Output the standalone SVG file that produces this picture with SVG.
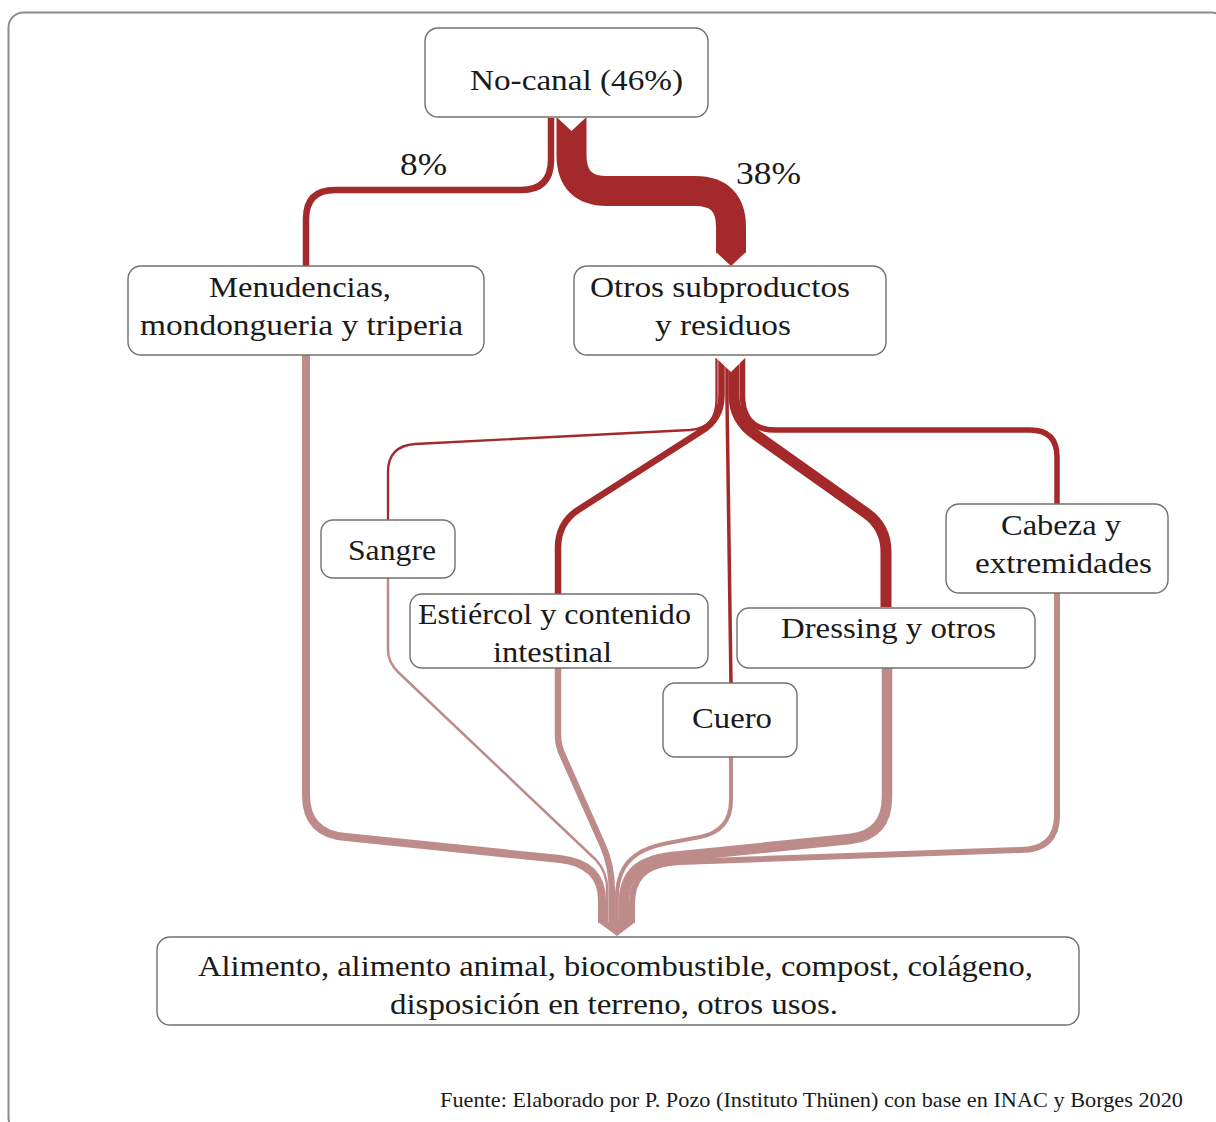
<svg xmlns="http://www.w3.org/2000/svg" width="1216" height="1122" viewBox="0 0 1216 1122">
  <style>
    .frame { fill: none; stroke: #8c8c8c; stroke-width: 2; }
    .box { fill: #ffffff; stroke: #707070; stroke-width: 1.4; }
    .lbl { font-family: "Liberation Serif", "DejaVu Serif", serif; font-size: 30px; fill: #1a1a1a; text-anchor: middle; }
    .pct { font-family: "Liberation Serif", "DejaVu Serif", serif; font-size: 31px; fill: #1a1a1a; text-anchor: middle; }
    .src { font-family: "Liberation Serif", "DejaVu Serif", serif; font-size: 21px; fill: #1a1a1a; text-anchor: middle; }
    .in { fill: none; stroke: #a3292b; stroke-linecap: butt; stroke-linejoin: round; }
    .out { fill: none; stroke: #bd8b8a; stroke-linecap: butt; stroke-linejoin: round; }
  </style>

  <rect class="frame" x="8.5" y="12.5" width="1218" height="1120" rx="15"/>

  <g id="connectors">
    <!-- No-canal split: 8% and 38% -->
    <path class="in" stroke-width="6.5" d="M 551 118 V 160 Q 551 190 521 190 H 335 Q 306 190 306 219 V 267"/>
    <path class="in" stroke-width="30" d="M 571.5 118 V 155 Q 571.5 191 607 191 H 695 Q 731 191 731 227 V 253"/>
    <polygon points="556.5,117 586.5,117 571.5,131" fill="#ffffff"/>
    <polygon points="716,252 746,252 731,266" fill="#a3292b"/>

    <!-- Otros subproductos fan-out -->
    <path class="in" stroke-width="2.3" d="M 716.5 358 V 400 Q 716.5 428 690 430 L 415 444 Q 388 446 388 472 V 521"/>
    <path class="in" stroke-width="6.5" d="M 721.5 358 V 395 Q 721.5 420 700 432 L 578 510 Q 558 523 558 548 V 595"/>
    <path class="in" stroke-width="3.5" d="M 727 358 V 400 L 731 684"/>
    <path class="in" stroke-width="11" d="M 734 358 V 395 Q 734 420 756 435 L 866 513 Q 886 527 886 552 V 607"/>
    <path class="in" stroke-width="5.5" d="M 742.5 358 V 395 Q 742.5 430 775 430 H 1030 Q 1057 430 1057 457 V 505"/>
    <polygon points="714,356 747,356 731,372" fill="#ffffff"/>

    <!-- Flows into final uses -->
    <path class="out" stroke-width="8" d="M 306 355 V 795 Q 306 834 346 837 L 560 859 Q 602 864 602 900 V 923"/>
    <path class="out" stroke-width="2.5" d="M 388 578 V 650 Q 388 662 398 672 L 596 860 Q 607.2 872 607.2 890 V 923"/>
    <path class="out" stroke-width="6.5" d="M 558 668 V 735 Q 558 746 563 756 L 603 846 Q 611.8 866 611.8 890 V 923"/>
    <path class="out" stroke-width="4" d="M 731 757 V 800 Q 731 831 700 837 L 668 843 C 630 850 616.8 868 616.8 900 V 923"/>
    <path class="out" stroke-width="10.5" d="M 887 668 V 797 Q 887 835 850 839 L 672 857 C 636 861 623.8 876 623.8 905 V 923"/>
    <path class="out" stroke-width="6" d="M 1057 593 V 815 Q 1057 850 1020 850 L 680 862 C 642 864 632 880 632 905 V 923"/>
    <polygon points="598,922 635.5,922 617,936" fill="#bd8b8a"/>
  </g>

  <g id="node-no-canal">
    <rect class="box" x="425" y="28" width="283" height="89" rx="13"/>
    <text class="lbl" x="576.5" y="90" font-size="31" textLength="213" lengthAdjust="spacingAndGlyphs">No-canal (46%)</text>
  </g>

  <g id="label-8">
    <text class="pct" x="423.5" y="175" textLength="47" lengthAdjust="spacingAndGlyphs">8%</text>
  </g>
  <g id="label-38">
    <text class="pct" x="768.5" y="184" textLength="65" lengthAdjust="spacingAndGlyphs">38%</text>
  </g>

  <g id="node-menudencias">
    <rect class="box" x="128" y="266" width="356" height="89" rx="13"/>
    <text class="lbl" x="300" y="297" textLength="182" lengthAdjust="spacingAndGlyphs">Menudencias,</text>
    <text class="lbl" x="301.5" y="335" textLength="323" lengthAdjust="spacingAndGlyphs">mondongueria y triperia</text>
  </g>

  <g id="node-otros">
    <rect class="box" x="574" y="266" width="312" height="89" rx="13"/>
    <text class="lbl" x="720" y="297" textLength="260" lengthAdjust="spacingAndGlyphs">Otros subproductos</text>
    <text class="lbl" x="723" y="335" textLength="136" lengthAdjust="spacingAndGlyphs">y residuos</text>
  </g>

  <g id="node-sangre">
    <rect class="box" x="321" y="520" width="134" height="58" rx="12"/>
    <text class="lbl" x="392" y="560" textLength="88" lengthAdjust="spacingAndGlyphs">Sangre</text>
  </g>

  <g id="node-estiercol">
    <rect class="box" x="410" y="594" width="298" height="74" rx="12"/>
    <text class="lbl" x="554.5" y="624" textLength="273" lengthAdjust="spacingAndGlyphs">Estiércol y contenido</text>
    <text class="lbl" x="552.5" y="662" textLength="119" lengthAdjust="spacingAndGlyphs">intestinal</text>
  </g>

  <g id="node-cuero">
    <rect class="box" x="663" y="683" width="134" height="74" rx="12"/>
    <text class="lbl" x="732" y="728" textLength="80" lengthAdjust="spacingAndGlyphs">Cuero</text>
  </g>

  <g id="node-dressing">
    <rect class="box" x="737" y="608" width="298" height="60" rx="12"/>
    <text class="lbl" x="888.5" y="638" textLength="215" lengthAdjust="spacingAndGlyphs">Dressing y otros</text>
  </g>

  <g id="node-cabeza">
    <rect class="box" x="946" y="504" width="222" height="89" rx="13"/>
    <text class="lbl" x="1061" y="535" textLength="120" lengthAdjust="spacingAndGlyphs">Cabeza y</text>
    <text class="lbl" x="1063.5" y="573" textLength="177" lengthAdjust="spacingAndGlyphs">extremidades</text>
  </g>

  <g id="node-usos">
    <rect class="box" x="157" y="937" width="922" height="88" rx="13"/>
    <text class="lbl" x="615.5" y="976" textLength="835" lengthAdjust="spacingAndGlyphs">Alimento, alimento animal, biocombustible, compost, colágeno,</text>
    <text class="lbl" x="614" y="1014" textLength="448" lengthAdjust="spacingAndGlyphs">disposición en terreno, otros usos.</text>
  </g>

  <g id="source-note">
    <text class="src" x="811.5" y="1107" textLength="743" lengthAdjust="spacingAndGlyphs">Fuente: Elaborado por P. Pozo (Instituto Thünen) con base en INAC y Borges 2020</text>
  </g>
</svg>
